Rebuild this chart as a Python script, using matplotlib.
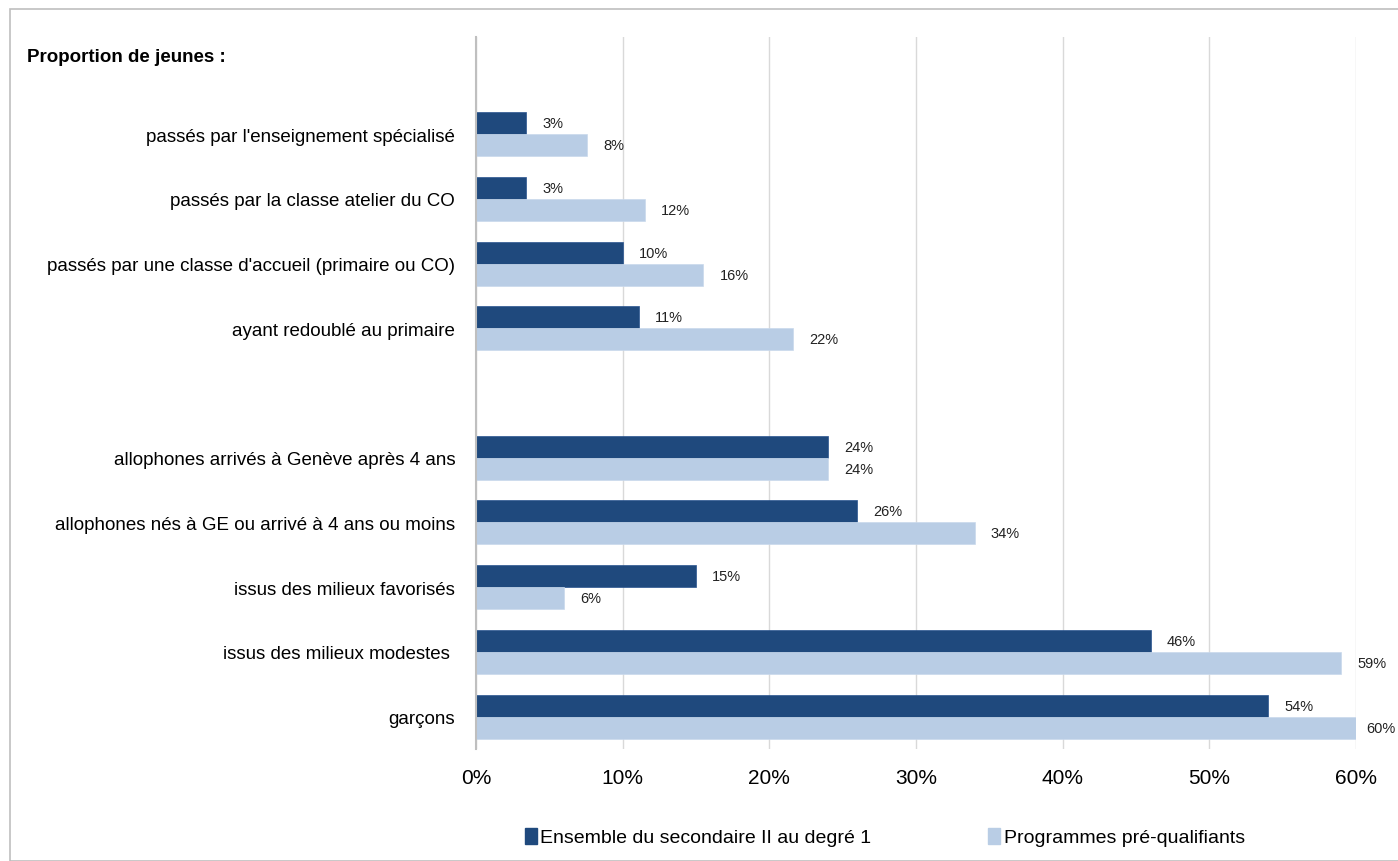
import matplotlib
matplotlib.use("Agg")
import matplotlib.pyplot as plt
from matplotlib.patches import Rectangle, Patch
import numpy as np

categories = [
    "passés par l'enseignement spécialisé",
    "passés par la classe atelier du CO",
    "passés par une classe d'accueil (primaire ou CO)",
    "ayant redoublé au primaire",
    "",
    "allophones arrivés à Genève après 4 ans",
    "allophones nés à GE ou arrivé à 4 ans ou moins",
    "issus des milieux favorisés",
    "issus des milieux modestes ",
    "garçons",
]
ensemble = [3.4, 3.4, 10.0, 11.1, None, 24.0, 26.0, 15.0, 46.0, 54.0]
prequal = [7.6, 11.5, 15.5, 21.6, None, 24.0, 34.0, 6.0, 59.0, 60.0]
series_names = ["Ensemble du secondaire II au degré 1", "Programmes pré-qualifiants"]
x_ticks = [0, 10, 20, 30, 40, 50, 60]

plt.rcParams["font.family"] = ["Liberation Sans", "DejaVu Sans"]

dark = "#1f497d"
light = "#b9cde5"

fig = plt.figure(figsize=(13.98, 8.62), dpi=100)
fig.patches.append(Rectangle((10 / 1398, 0), 1 - 10 / 1398 + 0.01, 1 - 10 / 862,
                             transform=fig.transFigure, fill=False,
                             edgecolor="#bfbfbf", lw=1.2))
ax = fig.add_axes([476 / 1398, 1 - 750 / 862, 880 / 1398, 712 / 862])

h = 0.34
pos = np.arange(len(categories)) + 1  # slot 0 holds the header text
for i, (a, b) in enumerate(zip(ensemble, prequal)):
    if a is None:
        continue
    y = pos[i]
    ax.barh(y - h / 2, a, height=h, color=dark, edgecolor="#2a5590", lw=0.5, zorder=3)
    ax.barh(y + h / 2, b, height=h, color=light, edgecolor="#c9d9ec", lw=0.5, zorder=3)
    ax.text(a + 1.1, y - h / 2, f"{round(a)}%", va="center", ha="left", fontsize=10.5, color="#222222")
    # last label is pulled in so it stays inside the frame, as in the source
    ax.text(min(b + 1.1, 60.7), y + h / 2, f"{round(b)}%", va="center", ha="left", fontsize=10.5,
            color="#222222", clip_on=False)

ax.set_ylim(len(categories) + 0.5, -0.5)
ax.set_xlim(0, 60)
ax.set_yticks(pos)
ax.set_yticklabels(categories, fontsize=13.5)
ax.set_xticks(x_ticks)
ax.set_xticklabels([f"{t}%" for t in x_ticks], fontsize=15)
ax.tick_params(axis="y", length=0, pad=15)
ax.tick_params(axis="x", length=0, pad=14)
ax.grid(axis="x", color="#d9d9d9", lw=1, zorder=0)
for s in ["top", "right", "bottom"]:
    ax.spines[s].set_visible(False)
ax.spines["left"].set_color("#bfbfbf")
ax.spines["left"].set_linewidth(1.5)
ax.spines["left"].set_zorder(4)

fig.text(27 / 1398, 1 - 57 / 862, "Proportion de jeunes :", fontsize=13.5, fontweight="bold",
         va="center", ha="left")

handles = [Patch(color=dark), Patch(color=light)]
fig.legend(handles, series_names, loc="center", bbox_to_anchor=(0.633, 1 - 838 / 862), ncol=2,
           frameon=False, fontsize=14, handlelength=0.6, handleheight=0.9, handletextpad=0.2,
           columnspacing=6)

fig.savefig("out.png", dpi=100)
